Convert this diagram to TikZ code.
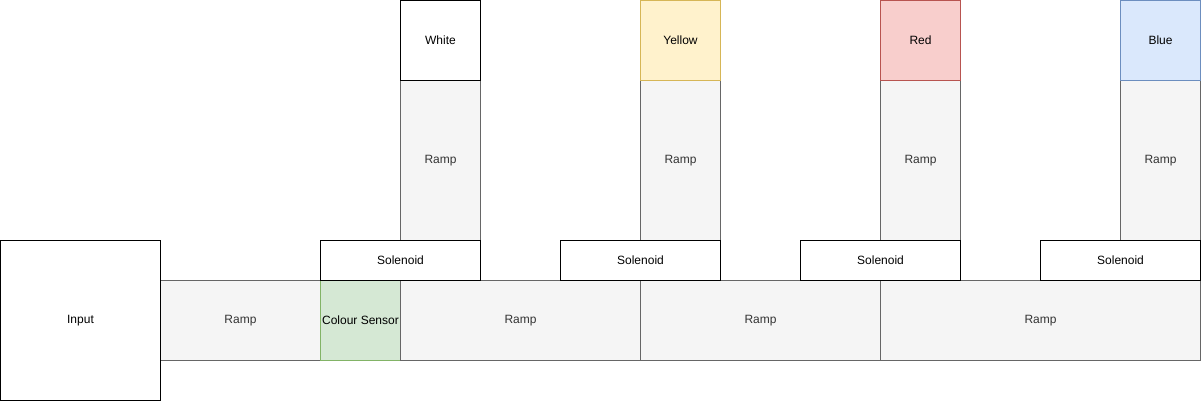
\documentclass[tikz,border=0pt]{standalone}
\usepackage{fontspec}
\setmainfont{Liberation Sans}
\definecolor{rampfill}{HTML}{F5F5F5}
\definecolor{rampline}{HTML}{666666}
\definecolor{ramptext}{HTML}{333333}
\definecolor{greenfill}{HTML}{D5E8D4}
\definecolor{greenline}{HTML}{82B366}
\definecolor{yellowfill}{HTML}{FFF2CC}
\definecolor{yellowline}{HTML}{D6B656}
\definecolor{redfill}{HTML}{F8CECC}
\definecolor{redline}{HTML}{B85450}
\definecolor{bluefill}{HTML}{DAE8FC}
\definecolor{blueline}{HTML}{6C8EBF}
\begin{document}
\begin{tikzpicture}[x=1pt,y=-1pt,
  box/.style={draw, rectangle, inner sep=0pt, anchor=north west, line width=1pt,
    font=\fontsize{12}{14}\selectfont, text=black},
  ramp/.style={box, draw=rampline, fill=rampfill, text=ramptext},
  plain/.style={box, draw=black, fill=white}]
\useasboundingbox (0,0) rectangle (1201,402);
% horizontal ramps
\node[ramp, minimum width=160pt, minimum height=80pt] (r1) at (160,280) {Ramp};
\node[box, draw=greenline, fill=greenfill, minimum width=80pt, minimum height=80pt] (cs) at (320,280) {Colour Sensor};
\node[ramp, minimum width=240pt, minimum height=80pt] (r2) at (400,280) {Ramp};
\node[ramp, minimum width=240pt, minimum height=80pt] (r3) at (640,280) {Ramp};
\node[ramp, minimum width=320pt, minimum height=80pt] (r4) at (880,280) {Ramp};
% input
\node[plain, minimum width=160pt, minimum height=160pt] (in) at (0,240) {Input};
% vertical ramps
\node[ramp, minimum width=80pt, minimum height=160pt] (v1) at (400,80) {Ramp};
\node[ramp, minimum width=80pt, minimum height=160pt] (v2) at (640,80) {Ramp};
\node[ramp, minimum width=80pt, minimum height=160pt] (v3) at (880,80) {Ramp};
\node[ramp, minimum width=80pt, minimum height=160pt] (v4) at (1120,80) {Ramp};
% bins
\node[plain, minimum width=80pt, minimum height=80pt] (white) at (400,0) {White};
\node[box, draw=yellowline, fill=yellowfill, minimum width=80pt, minimum height=80pt] (yellow) at (640,0) {Yellow};
\node[box, draw=redline, fill=redfill, minimum width=80pt, minimum height=80pt] (red) at (880,0) {Red};
\node[box, draw=blueline, fill=bluefill, minimum width=80pt, minimum height=80pt] (blue) at (1120,0) {Blue};
% solenoids
\node[plain, minimum width=160pt, minimum height=40pt] (s1) at (320,240) {Solenoid};
\node[plain, minimum width=160pt, minimum height=40pt] (s2) at (560,240) {Solenoid};
\node[plain, minimum width=160pt, minimum height=40pt] (s3) at (800,240) {Solenoid};
\node[plain, minimum width=160pt, minimum height=40pt] (s4) at (1040,240) {Solenoid};
\end{tikzpicture}
\end{document}
